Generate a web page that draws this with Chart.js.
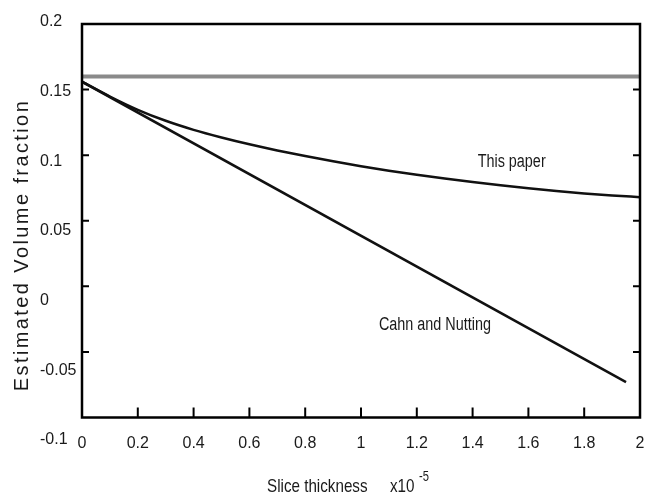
<!DOCTYPE html>
<html>
<head>
<meta charset="utf-8">
<script src="https://cdn.jsdelivr.net/npm/chart.js@4.4.1/dist/chart.umd.min.js"></script>
<style>
  html, body { margin: 0; padding: 0; background: #fff; }
</style>
</head>
<body>
<canvas id="chart" width="647" height="494"></canvas>
<script>
// slice thickness, in units of 1e-5
var thickness = [0, 0.1, 0.2, 0.3, 0.4, 0.5, 0.6, 0.7, 0.8, 0.9, 1.0,
                 1.1, 1.2, 1.3, 1.4, 1.5, 1.6, 1.7, 1.8, 1.9, 2.0];
var thisPaper = [0.156, 0.1447, 0.1346, 0.1262, 0.1193, 0.1135, 0.1083, 0.1036, 0.0993, 0.0953, 0.0916,
                 0.0882, 0.0851, 0.0822, 0.0795, 0.0770, 0.0747, 0.0726, 0.0708, 0.0693, 0.068];
var cahnX = [0, 1.95];
var cahnY = [0.156, -0.073];
var trueX = [0, 2];
var trueY = [0.16, 0.16];

var xTicks = [0, 0.2, 0.4, 0.6, 0.8, 1, 1.2, 1.4, 1.6, 1.8, 2];
var yTicks = [0.2, 0.15, 0.1, 0.05, 0, -0.05, -0.1];

var notes = ['This paper', 'Cahn and Nutting'];
var noteX = [1.54, 1.265];
var noteY = [0.0947, -0.0296];

var sans = '"Liberation Sans", Arial, sans-serif';

function pts(xs, ys) {
  return xs.map(function (x, i) { return { x: x, y: ys[i] }; });
}

// the original uses a narrow face; squeeze Liberation Sans sideways
function narrowText(ctx, text, x, y, size, align) {
  ctx.save();
  ctx.translate(x, y);
  ctx.scale(0.8, 1);
  ctx.font = size + 'px ' + sans;
  ctx.textAlign = align;
  ctx.fillText(text, 0, 0);
  ctx.restore();
}

// frame, inward ticks, notes and axis titles
var decor = {
  id: 'decor',
  afterDatasetsDraw: function (chart) {
    var ctx = chart.ctx, a = chart.chartArea;
    var sx = chart.scales.x, sy = chart.scales.y;
    ctx.save();
    ctx.strokeStyle = '#000';
    ctx.lineWidth = 2;
    ctx.beginPath();
    xTicks.slice(1, -1).forEach(function (v) {
      var px = sx.getPixelForValue(v);
      ctx.moveTo(px, a.bottom);
      ctx.lineTo(px, a.bottom - 10);
    });
    yTicks.slice(1, -1).forEach(function (v) {
      var py = sy.getPixelForValue(v);
      ctx.moveTo(a.left, py);
      ctx.lineTo(a.left + 7, py);
      ctx.moveTo(a.right, py);
      ctx.lineTo(a.right - 7, py);
    });
    ctx.stroke();
    ctx.lineWidth = 2.5;
    ctx.strokeRect(a.left, a.top, a.right - a.left, a.bottom - a.top);

    ctx.fillStyle = '#1a1a1a';
    ctx.textBaseline = 'middle';
    notes.forEach(function (t, i) {
      narrowText(ctx, t, sx.getPixelForValue(noteX[i]), sy.getPixelForValue(noteY[i]), 18, 'center');
    });

    ctx.textBaseline = 'alphabetic';
    narrowText(ctx, 'Slice thickness', 267, 492, 19, 'left');
    narrowText(ctx, 'x10', 390, 492, 19, 'left');
    narrowText(ctx, '-5', 419, 481, 14, 'left');

    ctx.translate(22, 245);
    ctx.rotate(-Math.PI / 2);
    ctx.font = '20px ' + sans;
    ctx.letterSpacing = '2.4px';
    ctx.textAlign = 'center';
    ctx.textBaseline = 'middle';
    ctx.fillText('Estimated Volume fraction', 0, 0);
    ctx.restore();
  }
};

var chart = new Chart(document.getElementById('chart'), {
  type: 'line',
  data: {
    datasets: [
      {
        label: 'True',
        data: pts(trueX, trueY),
        borderColor: '#8a8a8a',
        borderWidth: 4,
        pointRadius: 0
      },
      {
        label: 'This paper',
        data: pts(thickness, thisPaper),
        borderColor: '#111',
        borderWidth: 2.5,
        pointRadius: 0,
        cubicInterpolationMode: 'monotone'
      },
      {
        label: 'Cahn and Nutting',
        data: pts(cahnX, cahnY),
        borderColor: '#111',
        borderWidth: 2.5,
        pointRadius: 0
      }
    ]
  },
  options: {
    responsive: false,
    animation: false,
    layout: { padding: { left: 40, right: 7, top: 24, bottom: 0 } },
    plugins: {
      legend: { display: false },
      tooltip: { enabled: false }
    },
    scales: {
      x: {
        type: 'linear',
        min: 0,
        max: 2,
        bounds: 'data',
        afterBuildTicks: function (s) { s.ticks = xTicks.map(function (v) { return { value: v }; }); },
        afterFit: function (s) { s.height = 76.5; },
        // invisible tick marks just push the labels down
        grid: { display: true, drawOnChartArea: false, drawTicks: true, tickLength: 16, color: 'rgba(0,0,0,0)' },
        border: { display: false },
        ticks: {
          autoSkip: false,
          maxRotation: 0,
          padding: 0,
          color: '#1a1a1a',
          font: { family: sans, size: 16 },
          callback: function (v) { return String(v); }
        }
      },
      y: {
        display: false,
        min: -0.1,
        max: 0.2
      },
      // label axis: the printed tick labels drift away from the tick marks
      yl: {
        position: 'left',
        min: -0.0839,
        max: 0.19835,
        bounds: 'data',
        afterBuildTicks: function (s) { s.ticks = yTicks.map(function (v) { return { value: v }; }); },
        afterFit: function (s) { s.width = 42; },
        grid: { display: false, drawTicks: false },
        border: { display: false },
        ticks: {
          autoSkip: false,
          crossAlign: 'far',
          padding: 0,
          color: '#1a1a1a',
          font: { family: sans, size: 16 },
          callback: function (v) { return String(v); }
        }
      }
    }
  },
  plugins: [decor]
});
</script>
</body>
</html>
